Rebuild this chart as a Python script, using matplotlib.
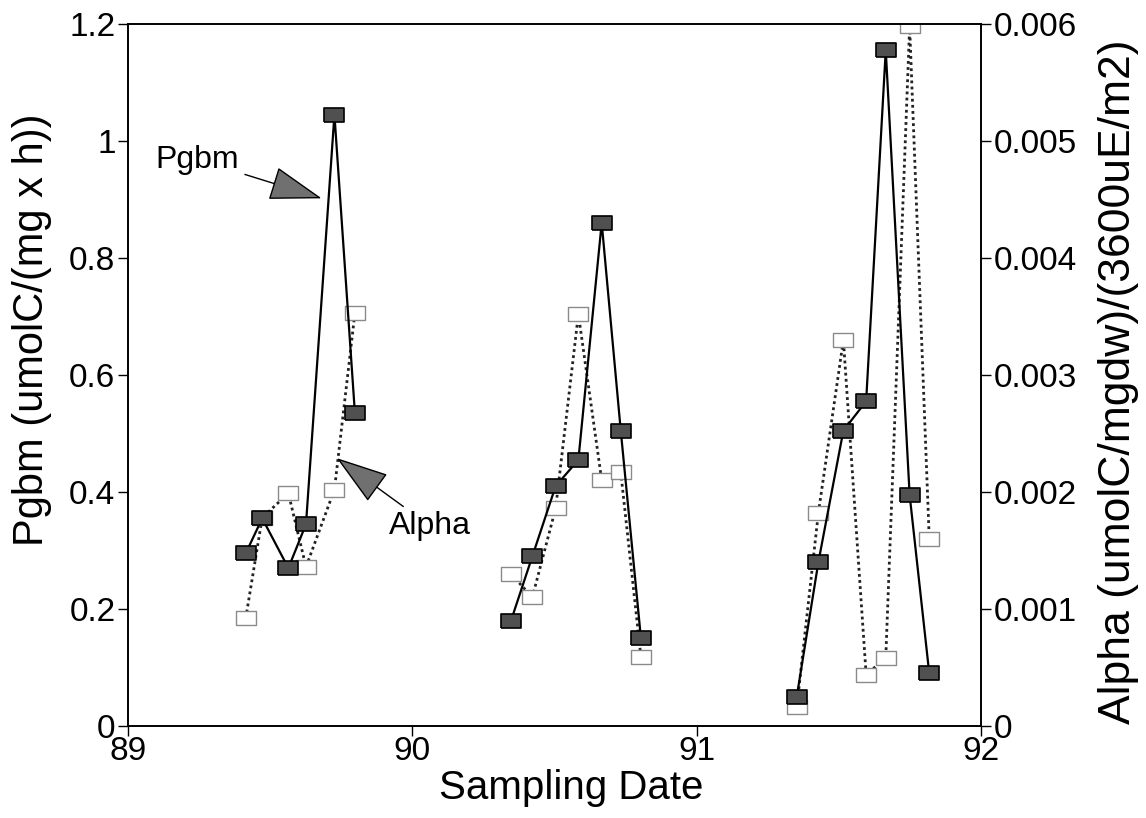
import numpy as np
import matplotlib
matplotlib.use("Agg")
import matplotlib.pyplot as plt

plt.rcParams['font.family'] = ['Liberation Sans', 'DejaVu Sans']

# ---- data ----
# sampling dates per campaign
dates_89 = [89.414, 89.472, 89.564, 89.626, 89.726, 89.798]
dates_90 = [90.347, 90.422, 90.504, 90.584, 90.666, 90.733, 90.804]
dates_91 = [91.352, 91.428, 91.516, 91.596, 91.665, 91.749, 91.818]

pgbm_89 = [0.295, 0.355, 0.270, 0.345, 1.045, 0.535]
pgbm_90 = [0.180, 0.290, 0.410, 0.455, 0.860, 0.505, 0.150]
pgbm_91 = [0.050, 0.280, 0.505, 0.555, 1.155, 0.395, 0.090]

alpha_89 = [0.00092, 0.00178, 0.00199, 0.00136, 0.00202, 0.00353]
alpha_90 = [0.00130, 0.00110, 0.00186, 0.00352, 0.00210, 0.00217, 0.00059]
alpha_91 = [0.00016, 0.00182, 0.00330, 0.00044, 0.00058, 0.00598, 0.00160]

xticks = [89, 90, 91, 92]
yticks_left = [0, 0.2, 0.4, 0.6, 0.8, 1.0, 1.2]
yticklabels_left = ['0', '0.2', '0.4', '0.6', '0.8', '1', '1.2']
yticks_right = [0, 0.001, 0.002, 0.003, 0.004, 0.005, 0.006]
yticklabels_right = ['0', '0.001', '0.002', '0.003', '0.004', '0.005', '0.006']

# ---- figure ----
fig = plt.figure(figsize=(11.46, 8.18), dpi=100)
ax = fig.add_axes([128/1146, 1-726/818, (981-128)/1146, (726-24)/818])
ax2 = ax.twinx()

rect = [(-1, -0.68), (1, -0.68), (1, 0.68), (-1, 0.68), (-1, -0.68)]

for d, a in [(dates_89, alpha_89), (dates_90, alpha_90), (dates_91, alpha_91)]:
    ax2.plot(d, a, linestyle=(0, (1, 1.2)), color='#222222', lw=2.0,
             marker=rect, markersize=14, markerfacecolor='white',
             markeredgecolor='#8a8a8a', markeredgewidth=1.0)

for d, p in [(dates_89, pgbm_89), (dates_90, pgbm_90), (dates_91, pgbm_91)]:
    ax.plot(d, p, linestyle='-', color='black', lw=1.6,
            marker=rect, markersize=14, markerfacecolor='#505050',
            markeredgecolor='black', markeredgewidth=1.2)

ax.set_zorder(ax2.get_zorder() + 1)
ax.patch.set_visible(False)

ax.set_xlim(89, 92)
ax.set_ylim(0, 1.2)
ax2.set_ylim(0, 0.006)

ax.set_xticks(xticks)
ax.set_xticklabels([str(t) for t in xticks])
ax.set_yticks(yticks_left)
ax.set_yticklabels(yticklabels_left)
ax2.set_yticks(yticks_right)
ax2.set_yticklabels(yticklabels_right)

for a_ in (ax, ax2):
    a_.tick_params(direction='out', length=7, width=1.0, labelsize=24, pad=2)
    for s in a_.spines.values():
        s.set_linewidth(1.2)
ax.tick_params(axis='x', pad=0)

ax.set_xlabel('Sampling Date', fontsize=29)
ax.xaxis.set_label_coords(0.52, -0.061)
ax.set_ylabel('Pgbm (umolC/(mg x h))', fontsize=30)
ax.yaxis.set_label_coords(-0.089, 0.565)
ax2.set_ylabel('Alpha (umolC/mgdw)/(3600uE/m2)', fontsize=32, rotation=90)
ax2.yaxis.set_label_coords(1.137, 0.49)

arrow_kw = dict(arrowstyle='-|>,head_length=1.7,head_width=0.55',
                mutation_scale=20, facecolor='#707070', edgecolor='black',
                lw=1.0, shrinkA=2, shrinkB=0)

ax.annotate('Pgbm', xy=(89.681, 0.902), xytext=(89.392, 0.968),
            fontsize=23, ha='right', va='center',
            arrowprops=arrow_kw)
ax.annotate('Alpha', xy=(89.734, 0.458), xytext=(89.918, 0.342),
            fontsize=23, ha='left', va='center',
            arrowprops=arrow_kw)

fig.savefig('out.png', dpi=100)
